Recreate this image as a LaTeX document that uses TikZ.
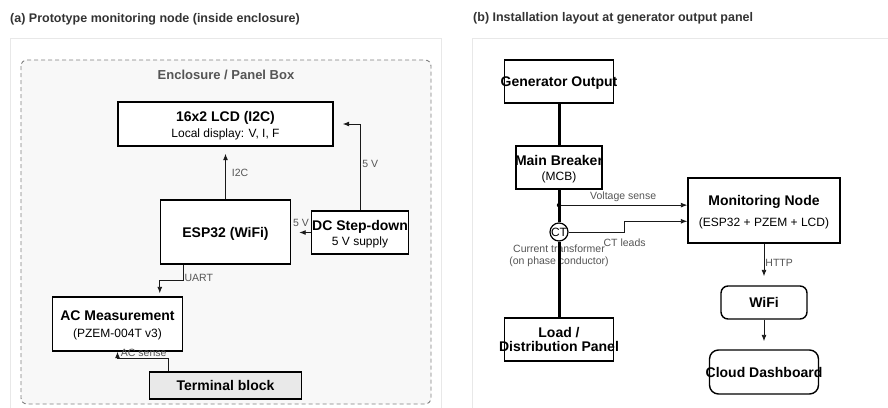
\documentclass[tikz,border=0pt]{standalone}
\usepackage{fontspec}
\setmainfont{Liberation Sans}
\usetikzlibrary{arrows.meta,positioning}
\definecolor{lblgray}{HTML}{555555}
\definecolor{titlegray}{HTML}{333333}
\definecolor{panelline}{HTML}{E8E8E8}
\definecolor{encfill}{HTML}{F8F8F8}
\definecolor{encline}{HTML}{808080}
\definecolor{termfill}{HTML}{E9E9E9}
\newcommand\subtxt{\fontsize{12}{14}\selectfont\mdseries}
\newcommand\spill[1]{\makebox[0pt]{#1}}
\tikzset{
box/.style= {rectangle, draw, line width=1.4pt, inner sep=0pt, align=center, fill=white, text depth=0pt, font=\fontsize{14}{16}\selectfont\bfseries},
rbox/.style= {box, rounded corners=7pt},
lbl/.style= {inner sep=1pt, text=lblgray, font=\fontsize{10.5}{12}\selectfont},
bus/.style= {line width=3pt},
wire/.style= {->, line width=0.9pt, draw=black!90},
heading/.style= {anchor=west, inner sep=0pt, text=titlegray, font=\fontsize{12.5}{14}\selectfont\bfseries}
}

\begin{document}
\begin{tikzpicture}[
x=1pt, y=-1pt,
node distance=40pt,
>={Latex[length=6.5pt,width=5pt]}]
\useasboundingbox (0,0) rectangle (888,407);

% panels
\draw[panelline, fill=white] (10,38) rectangle (441,408);
\draw[panelline, fill=white] (472,38) rectangle (890,408);
\node[heading] (titlea) at (10,19) {(a) Prototype monitoring node (inside enclosure)};
\node[heading] (titleb) at (473,18.5) {(b) Installation layout at generator output panel};

% (a) enclosure
\draw[encline, dash pattern=on 4pt off 3pt, fill=encfill, rounded corners=6pt, line width=0.9pt] (21,60) rectangle (431,404);
\node[text=lblgray, font=\fontsize{13}{15}\selectfont\bfseries] (enctitle) at (226,75) {Enclosure / Panel Box};

\node[box, minimum width=215pt, minimum height=44pt] (lcd) at (225.5,124) {16x2 LCD (I2C)\\{\subtxt Local display: V, I, F}};
\node[box, below of=lcd, yshift=-68pt, minimum width=130pt, minimum height=64pt] (esp) {ESP32 (WiFi)};
\node[box, right of=esp, xshift=94.5pt, yshift=-0.5pt, minimum width=97pt, minimum height=43pt] (dcdc) {\spill{DC Step-down}\\[-1pt]{\subtxt 5 V supply}};
\node[box, below of=esp, xshift=-108pt, yshift=-52pt, minimum width=130pt, minimum height=54pt] (pzem) {AC Measurement\\[1pt]{\subtxt (PZEM-004T v3)}};
\node[box, below of=pzem, xshift=108pt, yshift=-21.5pt, minimum width=152pt, minimum height=27pt, fill=termfill] (term) {Terminal block};

\draw[wire, shorten >=7pt] (esp.north) -- (esp.north |- lcd.south) node[lbl, midway, right=5pt] {I2C};
\draw[wire, shorten >=9pt] (dcdc.north) |- (lcd.east) node[lbl, pos=0.27, right=1pt] {5 V};
\draw[wire, shorten >=8pt] (dcdc.west) -- (dcdc.west -| esp.east) node[lbl, midway, above=4pt] {5 V};
\draw[wire, shorten >=3pt] (pzem.east |- esp.south) -- ++(0,16) node[lbl, pos=0.8, right] {UART} -| (esp.west |- pzem.north);
\draw[wire] (term.166) -- ++(0,-13) -| (pzem.south) node[lbl, pos=0.48, anchor=south west] {AC sense};

% (b) installation
\node[box, minimum width=109pt, minimum height=43pt] (gen) at (559,81.5) {\spill{Generator Output}};
\node[box, below of=gen, yshift=-46pt, minimum width=86pt, minimum height=43pt] (mcb) {\spill{Main Breaker}\\[-1pt]{\subtxt (MCB)}};
\node[circle, draw, fill=white, line width=1.2pt, minimum size=18pt, inner sep=0pt, font=\fontsize{12}{14}\selectfont, below of=mcb, yshift=-24.5pt,
  label={[lbl, align=center, label distance=2pt]below:Current transformer\\(on phase conductor)}] (ct) {\spill{CT}};
\node[box, below of=mcb, yshift=-132pt, minimum width=109pt, minimum height=43pt] (load) {Load /\\[-2pt]\spill{Distribution Panel}};
\node[box, minimum width=152pt, minimum height=65pt] (mon) at (764,210.5) {Monitoring Node\\[5pt]{\subtxt (ESP32 + PZEM + LCD)}};
\node[rbox, below of=mon, yshift=-52pt, minimum width=86pt, minimum height=33pt] (wifi) {WiFi};
\node[rbox, below of=wifi, yshift=-29.5pt, minimum width=109pt, minimum height=44pt, rounded corners=9pt] (cloud) {\spill{Cloud Dashboard}};

\draw[bus] (gen) -- (mcb);
\draw[bus] (mcb) -- (ct) -- (load);
\coordinate (tap) at (mcb.south |- mon.176);
\draw[wire] (tap) -- (mon.176) node[lbl, midway, above=2pt] {Voltage sense};
\fill (tap) circle (2.2pt);
\draw[wire] (ct.east) -- ++(56,0) coordinate (elbow) |- (mon.188);
\node[lbl, below=6pt of elbow] (ctleads) {CT leads};
\draw[wire, shorten >=9pt] (mon.south) -- (wifi.north) node[lbl, pos=0.45, right] {HTTP};
\draw[wire, shorten >=8pt] (wifi.south) -- (cloud.north);
\end{tikzpicture}
\end{document}
